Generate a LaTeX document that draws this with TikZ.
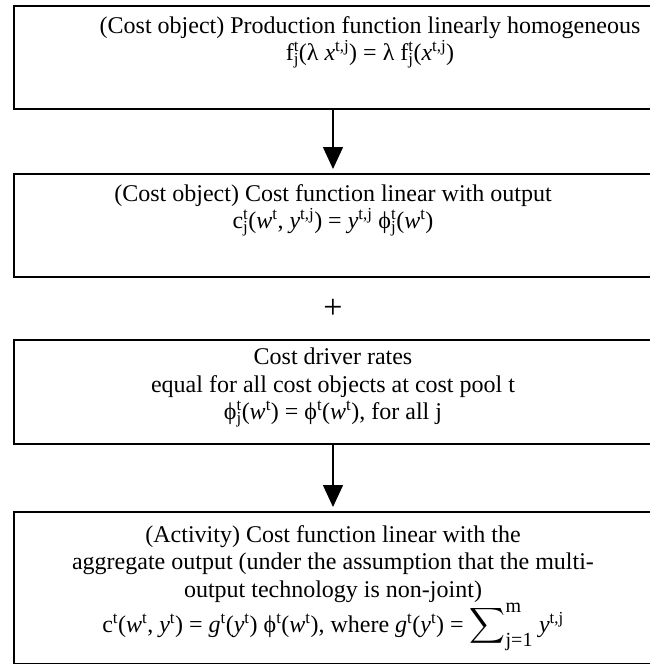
\documentclass[tikz,border=0pt]{standalone}
\usepackage{amsmath}
\usepackage{fontspec}
\setmainfont{Liberation Serif}
\usetikzlibrary{arrows.meta, positioning, calc}

\newcommand{\supsub}[2]{\rlap{\textsuperscript{#1}}\textsubscript{#2}}
\newcommand{\limtxt}[1]{\hbox{\fontsize{20}{20}\selectfont #1}}

\tikzset{
	box/.style = {draw, line width=2pt, anchor=north west, inner sep=0pt},
	txt/.style = {anchor=north, align=center, inner sep=0pt,
		font=\fontsize{24}{27.5}\selectfont},
	flow/.style = {line width=1.5pt, -{Triangle[width=20pt,length=22pt]}, shorten >=4pt}
}

\begin{document}
\begin{tikzpicture}[x=1pt, y=-1pt]
		\useasboundingbox (0,0) rectangle (650,664);
		\draw (13,5) node[box, minimum width=712pt, minimum height=103pt] (b1) {}
		(13,173) node[box, minimum width=638pt, minimum height=103pt] (b2) {}
		(13,339) node[box, minimum width=638pt, minimum height=104pt] (b3) {}
		(13,511) node[box, minimum width=638pt, minimum height=152pt] (b4) {};

		\node[txt, below=11pt of b1.north, anchor=north] (t1)
			{(Cost object) Production function linearly homogeneous\\
			f\supsub{t}{j}(λ \textit{x}\textsuperscript{t,j}) = λ f\supsub{t}{j}(\textit{x}\textsuperscript{t,j})};
		\node[txt, below=11pt of b2.north, anchor=north] (t2)
			{(Cost object) Cost function linear with output\\
			c\supsub{t}{j}(\textit{w}\textsuperscript{t}, \textit{y}\textsuperscript{t,j}) = \textit{y}\textsuperscript{t,j} ϕ\supsub{t}{j}(\textit{w}\textsuperscript{t})};
		\node[txt, below=9pt of b3.north, anchor=north] (t3)
			{Cost driver rates\\
			equal for all cost objects at cost pool t\\
			ϕ\supsub{t}{j}(\textit{w}\textsuperscript{t}) = ϕ\textsuperscript{t}(\textit{w}\textsuperscript{t}), for all j};
		\node[txt, below=14pt of b4.north, anchor=north] (t4)
			{(Activity) Cost function linear with the\\
			aggregate output (under the assumption that the multi-\\
			output technology is non-joint)\\
			c\textsuperscript{t}(\textit{w}\textsuperscript{t}, \textit{y}\textsuperscript{t}) = \textit{g}\textsuperscript{t}(\textit{y}\textsuperscript{t}) ϕ\textsuperscript{t}(\textit{w}\textsuperscript{t}), where \textit{g}\textsuperscript{t}(\textit{y}\textsuperscript{t}) = $\displaystyle\sum\nolimits^{\limtxt{m}}_{\limtxt{j=1}}$ \textit{y}\textsuperscript{t,j}};

		\node[font=\fontsize{34}{34}\selectfont] (plus) at ($(b2.south)!0.5!(b3.north)$) {+};

		\draw[flow] (b2.north |- b1.south) -- (b2.north);
		\draw[flow] (b3.south) -- (b4.north);
	\end{tikzpicture}
\end{document}
